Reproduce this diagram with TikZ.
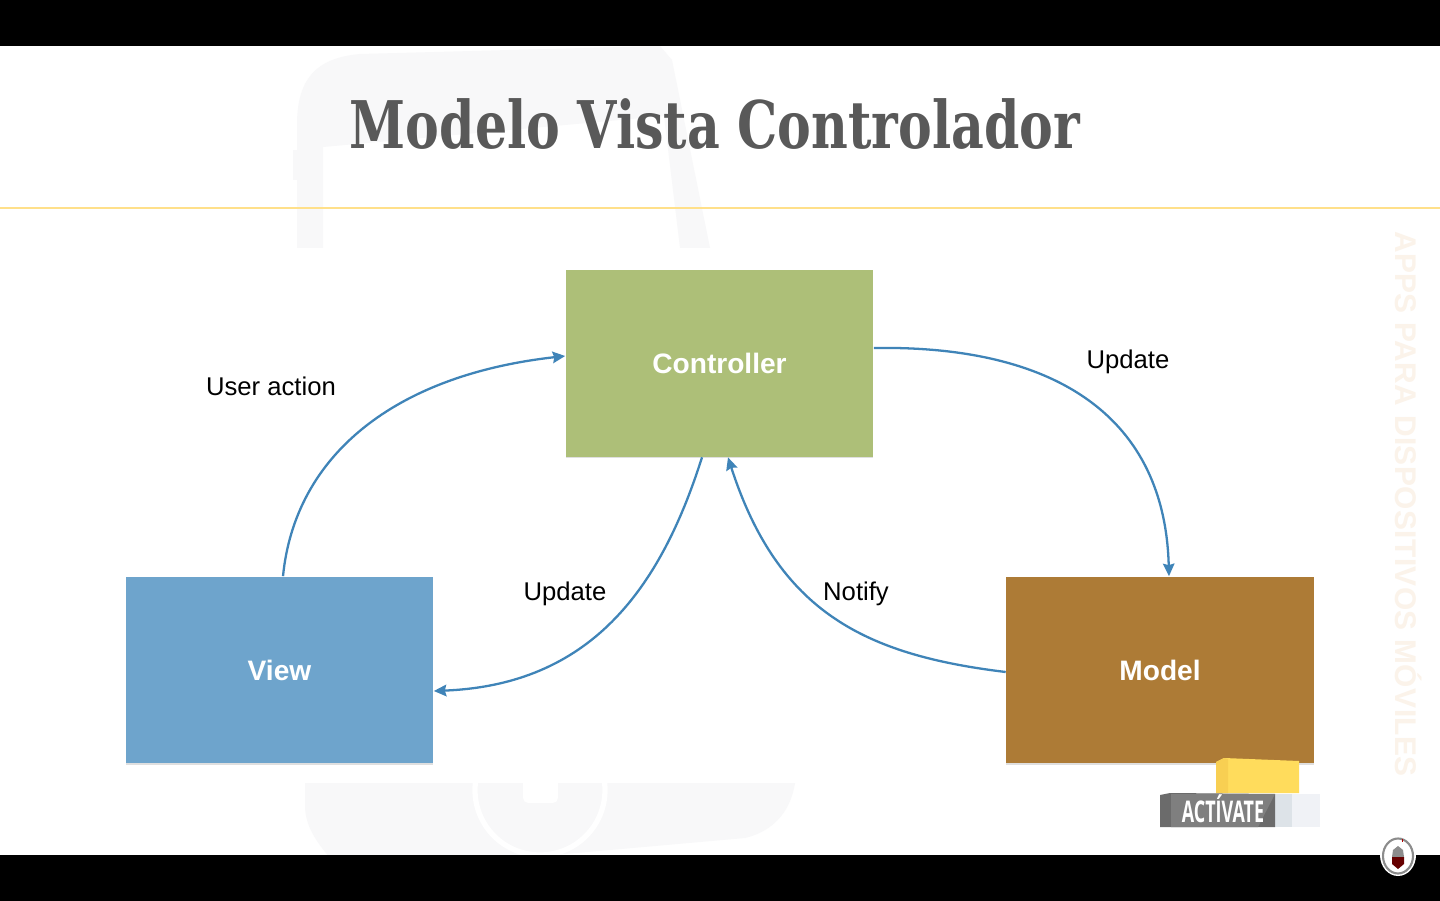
\documentclass[tikz,border=0pt]{standalone}
\usepackage{fontspec}
\usepackage{graphicx}
\setmainfont{Liberation Sans}
\newfontfamily\titlefont{DejaVu Serif}
\newfontfamily\markfont[LetterSpace=1.5]{Liberation Sans}
\newfontfamily\badgefont{Open Sans}
\usetikzlibrary{arrows.meta,shadows}
\definecolor{ctrlgreen}{HTML}{ADBF78}
\definecolor{viewblue}{HTML}{6EA4CC}
\definecolor{modelbrown}{HTML}{AD7B36}
\definecolor{flowblue}{HTML}{3F84B8}
\definecolor{titlegray}{HTML}{595959}
\definecolor{rulegold}{HTML}{FFE08A}
\definecolor{phonegray}{HTML}{F8F8F9}
\definecolor{markcream}{HTML}{FBF3EA}
\definecolor{badgeyellow}{HTML}{FFDC5C}
\definecolor{badgeamber}{HTML}{F8CF52}
\definecolor{badgedark}{HTML}{6B6B6B}
\definecolor{badgegray}{HTML}{7F7F7F}
\definecolor{badgepale}{HTML}{DDE3E8}
\definecolor{badgepaler}{HTML}{F0F2F6}
\tikzset{
  box/.style={minimum width=6.16cm,minimum height=3.74cm,inner sep=0pt,text=white,
    font=\fontsize{16}{18}\selectfont\bfseries,
    drop shadow={shadow xshift=0pt,shadow yshift=-0.7pt,opacity=.25}},
  flow/.style={draw=flowblue,line width=1.3pt,-{Stealth[length=0.25cm,width=0.23cm,inset=0.03cm]}},
  tag/.style={inner sep=0pt,font=\fontsize{14.6}{17}\selectfont,text=black},
}
\begin{document}
\begin{tikzpicture}[x=0.02cm,y=-0.02cm]
\useasboundingbox (0,0) rectangle (1440,901);
\fill[white] (0,0) rectangle (1440,901);
% phone behind the slide
\fill[phonegray] (297,248) -- (297,125) .. controls (297,80) and (315,58) .. (360,54) -- (660,46) -- (672,60) -- (710,248) -- (680,248) -- (664,116) -- (323,147) -- (323,248) -- cycle;
\fill[phonegray] (293,150) rectangle (298,180);
\fill[phonegray] (305,783) -- (795,783) .. controls (790,815) and (770,832) .. (745,838) -- (520,858) -- (330,858) .. controls (315,840) and (305,825) .. (305,805) -- cycle;
\begin{scope}
\clip (300,783) rectangle (800,855);
\draw[white,line width=3pt] (540,790) circle (65);
\fill[white,rounded corners=3pt] (523,775) rectangle (558,803);
\end{scope}
\node[rotate=-90,text=markcream] (mark) at (1409,504) {\fontsize{17}{20}\selectfont\markfont\bfseries APPS PARA DISPOSITIVOS MÓVILES};
% title
\node[text=titlegray,inner sep=0pt] (title) at (715,124) {\scalebox{0.77}[1]{\fontsize{37.4}{44}\selectfont\titlefont\bfseries Modelo Vista Controlador}};
\draw[rulegold,line width=1.7pt] (0,208) -- (1440,208);
% boxes
\node[box,fill=ctrlgreen] (controller) at (719.5,363.5) {Controller};
\node[box,fill=viewblue] (view) at (279.5,670) {View};
\node[box,fill=modelbrown] (model) at (1160,670) {Model};
% arrows
\draw[flow] ([xshift=0.07cm]view.north) .. controls (295,455) and (395,375) .. ([yshift=0.15cm]controller.west);
\draw[flow] ([yshift=0.31cm]controller.east) .. controls (1060,345) and (1165,420) .. ([xshift=0.18cm]model.north);
\draw[flow] ([xshift=-0.35cm]controller.south) .. controls (660,590) and (590,685) .. ([yshift=-0.42cm]view.east);
\draw[flow] ([yshift=-0.04cm]model.west) .. controls (865,655) and (778,612) .. ([xshift=0.17cm]controller.south);
% labels
\node[tag] (useraction) at (271,386) {User action};
\node[tag] (updateright) at (1128,362) {Update};
\node[tag] (updateleft) at (565,594) {Update};
\node[tag] (notify) at (856,594) {Notify};
% badge
\fill[badgeyellow] (1216,762) -- (1224,758) -- (1299,761) -- (1299,793) -- (1216,793) -- cycle;
\fill[badgeamber] (1216,762) -- (1224,758) -- (1228,759) -- (1228,793) -- (1216,793) -- cycle;
\fill[badgepale] (1275,794) rectangle (1292,827);
\fill[badgepaler] (1292,794) rectangle (1320,827);
\fill[badgedark] (1160,795) -- (1170,793) -- (1275,794) -- (1275,827) -- (1160,827) -- cycle;
\fill[badgegray] (1171,794) -- (1275,794) -- (1258,827) -- (1171,827) -- cycle;
\node[text=white,inner sep=0pt] (activate) at (1223,809) {\scalebox{0.6}[1]{\fontsize{17}{19}\selectfont\badgefont\bfseries ACTÍVATE}};
% bars
\fill[black] (0,0) rectangle (1440,46);
\fill[black] (0,855) rectangle (1440,901);
% crest
\fill[white] (1398,855) ellipse (18 and 21);
\draw[black!45,line width=1.2pt] (1398,856) ellipse (15 and 17.5);
\fill[black!45] (1393,850) -- (1398,846) -- (1403,850) -- (1404,857) -- (1392,857) -- cycle;
\fill[black!60!red] (1392,857) -- (1404,857) -- (1404,864) -- (1398,869) -- (1392,864) -- cycle;
\fill[red!70!black] (1401.5,839) rectangle (1403,842);
\end{tikzpicture}
\end{document}
